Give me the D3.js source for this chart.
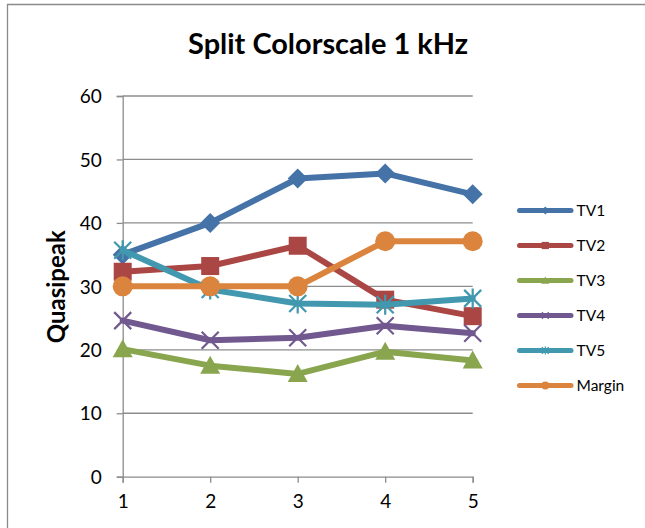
<!DOCTYPE html>
<html>
<head>
<meta charset="utf-8">
<script src="https://cdn.jsdelivr.net/npm/d3@7"></script>
<style>
  html, body { margin: 0; padding: 0; background: #fff; }
  svg { display: block; }
</style>
</head>
<body>
<svg id="chart" width="645" height="528"></svg>
<script>
const categories = [1, 2, 3, 4, 5];
const seriesNames = ["TV1", "TV2", "TV3", "TV4", "TV5", "Margin"];
const tv1 = [35.0, 40.0, 47.0, 47.8, 44.5];
const tv2 = [32.3, 33.2, 36.4, 27.9, 25.3];
const tv3 = [20.1, 17.5, 16.2, 19.7, 18.3];
const tv4 = [24.6, 21.5, 21.9, 23.8, 22.6];
const tv5 = [35.7, 29.5, 27.3, 27.1, 28.1];
const margin = [30.0, 30.0, 30.0, 37.1, 37.1];
const yTicks = [0, 10, 20, 30, 40, 50, 60];
const titleText = "Split Colorscale 1 kHz";
const yTitle = "Quasipeak";

const seriesValues = [tv1, tv2, tv3, tv4, tv5, margin];
const colors = ["#4572A7", "#AA4643", "#89A54E", "#71588F", "#4198AF", "#DB843D"];
const markers = ["diamond", "square", "triangle", "x", "star", "circle"];

const svg = d3.select("#chart");
const FONT = "Lato, 'Open Sans', 'Liberation Sans', sans-serif";

// chart frame
svg.append("path")
  .attr("d", "M7.5,540 L7.5,4.5 L660,4.5")
  .attr("fill", "none").attr("stroke", "#8a8a8a").attr("stroke-width", 1.3);

const x = d3.scalePoint().domain(categories).range([122.7, 472.7]);
const y = d3.scaleLinear().domain([0, 60]).range([476.7, 96]);

// gridlines
svg.append("g").selectAll("line").data(yTicks.filter(d => d > 0)).join("line")
  .attr("x1", 122.7).attr("x2", 472.7)
  .attr("y1", d => y(d)).attr("y2", d => y(d))
  .attr("stroke", "#8c8c8c").attr("stroke-width", 1.3);

// y axis
const yAxis = svg.append("g").attr("transform", "translate(122.7,0)")
  .call(d3.axisLeft(y).tickValues(yTicks).tickSize(6).tickPadding(15).tickFormat(d3.format("d")));
yAxis.select(".domain").attr("stroke", "#8c8c8c").attr("stroke-width", 1.3);
yAxis.selectAll(".tick line").attr("stroke", "#8c8c8c").attr("stroke-width", 1.3);
yAxis.selectAll("text").attr("font-family", FONT).attr("font-size", 19).attr("fill", "#000").attr("dy", "0.35em");

// x axis
const xAxis = svg.append("g").attr("transform", "translate(0,476.7)")
  .call(d3.axisBottom(x).tickSize(6).tickPadding(12));
xAxis.select(".domain").attr("stroke", "#8c8c8c").attr("stroke-width", 1.3);
xAxis.selectAll(".tick line").attr("stroke", "#8c8c8c").attr("stroke-width", 1.3);
xAxis.selectAll("text").attr("font-family", FONT).attr("font-size", 19).attr("fill", "#000");

// title
const t = svg.append("text").attr("x", 328).attr("y", 54)
  .attr("text-anchor", "middle").attr("font-family", FONT).attr("font-weight", "bold")
  .attr("font-size", 24).attr("fill", "#000").text(titleText);
const tw = t.node().getComputedTextLength();
t.attr("font-size", 24 * 280 / tw);

// y title
const yt = svg.append("text").attr("transform", "translate(65,286.7) rotate(-90)")
  .attr("text-anchor", "middle").attr("font-family", FONT).attr("font-weight", "bold")
  .attr("font-size", 22).attr("fill", "#000").text(yTitle);
const ytw = yt.node().getComputedTextLength();
yt.attr("font-size", 22 * 113 / ytw);

function drawMarker(g, type, cx, cy, s, color) {
  const h = s / 2;
  if (type === "diamond") {
    g.append("path").attr("d", `M${cx},${cy - h}L${cx + h},${cy}L${cx},${cy + h}L${cx - h},${cy}Z`).attr("fill", color);
  } else if (type === "square") {
    const q = h * 0.9;
    g.append("rect").attr("x", cx - q).attr("y", cy - q).attr("width", 2 * q).attr("height", 2 * q).attr("fill", color);
  } else if (type === "triangle") {
    g.append("path").attr("d", `M${cx},${cy - h}L${cx + h},${cy + h * 0.8}L${cx - h},${cy + h * 0.8}Z`).attr("fill", color);
  } else if (type === "circle") {
    g.append("circle").attr("cx", cx).attr("cy", cy).attr("r", h).attr("fill", color);
  } else if (type === "x") {
    const q = h * 0.85;
    g.append("path").attr("d", `M${cx - q},${cy - q}L${cx + q},${cy + q}M${cx - q},${cy + q}L${cx + q},${cy - q}`)
      .attr("stroke", color).attr("stroke-width", Math.max(1.2, s / 9)).attr("fill", "none");
  } else if (type === "star") {
    const q = h * 0.85;
    g.append("path").attr("d", `M${cx - q},${cy - q}L${cx + q},${cy + q}M${cx - q},${cy + q}L${cx + q},${cy - q}M${cx},${cy - h}L${cx},${cy + h}`)
      .attr("stroke", color).attr("stroke-width", Math.max(1.2, s / 9)).attr("fill", "none");
  }
}

const line = d3.line().x((d, i) => x(categories[i])).y(d => y(d));

seriesValues.forEach((vals, si) => {
  const g = svg.append("g");
  g.append("path").datum(vals).attr("d", line)
    .attr("fill", "none").attr("stroke", colors[si]).attr("stroke-width", 6)
    .attr("stroke-linejoin", "round").attr("stroke-linecap", "round");
  vals.forEach((v, i) => drawMarker(g, markers[si], x(categories[i]), y(v), 20, colors[si]));
});

// legend
const leg = svg.append("g");
seriesNames.forEach((name, i) => {
  const ly = 210.5 + i * 35;
  leg.append("line").attr("x1", 519.5).attr("x2", 571).attr("y1", ly).attr("y2", ly)
    .attr("stroke", colors[i]).attr("stroke-width", 5).attr("stroke-linecap", "round");
  drawMarker(leg, markers[i], 545.3, ly, 8, colors[i]);
  leg.append("text").attr("x", 576.5).attr("y", ly).attr("dy", "0.35em")
    .attr("font-family", FONT).attr("font-size", 15.5).attr("fill", "#000").text(name);
});
</script>
</body>
</html>
